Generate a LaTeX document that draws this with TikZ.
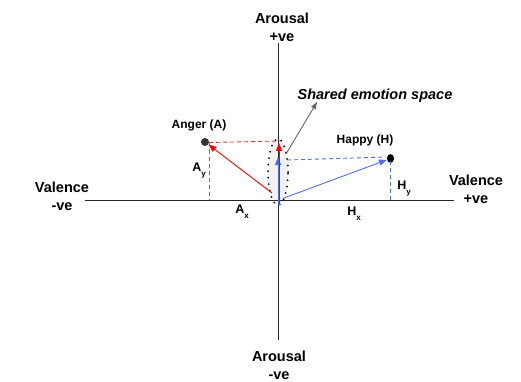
\documentclass[tikz,border=0pt]{standalone}
\usepackage{fontspec}
\setmainfont{Liberation Sans}
\usetikzlibrary{arrows.meta,positioning,shapes.geometric}
\definecolor{emoRed}{HTML}{FF0000}
\definecolor{emoDash}{HTML}{FF3333}
\definecolor{emoBlue}{HTML}{4F6FE8}
\definecolor{emoGray}{HTML}{666666}
\definecolor{emoFill}{HTML}{F2F2F2}
\newcommand{\lowsub}[1]{\raisebox{-5pt}{\fontsize{8}{9}\selectfont #1}}

\begin{document}
\begin{tikzpicture}[x=1pt,y=-1pt,
  axislabel/.style={font=\fontsize{14.5}{18}\selectfont\bfseries,
                    align=center, inner sep=0pt},
  pointlabel/.style={font=\fontsize{12}{14}\selectfont\bfseries, inner sep=0pt},
  complabel/.style={font=\fontsize{12.5}{14}\selectfont\bfseries, inner sep=0pt},
  axisline/.style={draw=black!85, line width=0.9pt},
  vec/.style={line width=0.9pt, -{Triangle[length=8pt,width=6pt]}},
  proj/.style={line width=0.9pt, dash pattern=on 4pt off 3pt},
]
\useasboundingbox (0,0) rectangle (521,382);

% shared region
\node[ellipse, draw=black, fill=emoFill, line width=2pt, line cap=round,
      dash pattern=on 0pt off 6.5pt, minimum width=20pt, minimum height=66pt,
      inner sep=0pt] (shared) at (278,172) {};

% axes
\coordinate (left)   at (85,200);
\coordinate (right)  at (454,200);
\coordinate (top)    at (278,43);
\coordinate (bottom) at (278,340);
\draw[axisline] (left) -- (right);
\draw[axisline] (top) -- (bottom);

\node[axislabel] (arousalPos) at (282,27)  {Arousal\\+ve};
\node[axislabel] (arousalNeg) at (279,365) {Arousal\\-ve};
\node[axislabel] (valenceNeg) at (62,196)  {Valence\\-ve};
\node[axislabel] (valencePos) at (476,189) {Valence\\+ve};

% emotion points
\node[circle, fill=black!80, minimum size=8pt, inner sep=0pt] (anger) at (205,142) {};
\node[ellipse, fill=black, minimum width=7pt, minimum height=9pt, inner sep=0pt] (happy) at (390.5,158.5) {};
\node[pointlabel] (angerLabel) at (199,125) {Anger (A)};
\node[pointlabel] (happyLabel) at (365,140) {Happy (H)};

% projections
\coordinate (angerFoot) at (209,200);
\coordinate (angerCorner) at (209,142.5);
\coordinate (angerTop) at (280,141);
\coordinate (happyFoot) at (390.5,200);
\coordinate (happyCorner) at (390.5,161);
\coordinate (happyStart) at (287,160);
\coordinate (happyEnd) at (386,157);
\draw[proj, emoDash] (angerCorner) -- (angerFoot);
\draw[proj, emoDash] (angerCorner) -- (angerTop);
\draw[proj, emoBlue] (happyCorner) -- (happyFoot);
\draw[proj, emoBlue] (happyStart) -- (happyEnd);

% vectors
\coordinate (redStart)  at (272,193);
\coordinate (blueStart) at (284,198);
\coordinate (redBase)   at (279,205);
\coordinate (redTip)    at (279,143);
\coordinate (blueBase)  at (278,205);
\coordinate (blueTip)   at (278,157);
\draw[vec, emoRed]  (redStart) -- (anger);
\draw[vec, emoBlue] (blueStart) -- (happy);
\draw[vec, emoBlue] (blueBase) -- (blueTip);
\draw[line width=0.9pt, emoRed] (redBase) -- (279,160);
\draw[vec, emoRed]  (redBase) -- (redTip);

% component labels
\node[complabel] (ay) at (199,171) {A\lowsub{y}};
\node[complabel] (ax) at (242,212) {A\lowsub{x}};
\node[complabel] (hy) at (404,189) {H\lowsub{y}};
\node[complabel] (hx) at (354,214) {H\lowsub{x}};

% callout
\node[font=\fontsize{14.5}{18}\selectfont\bfseries\itshape, inner sep=0pt]
  (sharedLabel) at (375,96) {Shared emotion space};
\coordinate (calloutStart) at (286,154);
\coordinate (calloutTip) at (317,102);
\draw[emoGray, line width=0.9pt, -{Triangle[length=7pt,width=5pt]}]
  (calloutStart) -- (calloutTip);
\end{tikzpicture}
\end{document}
